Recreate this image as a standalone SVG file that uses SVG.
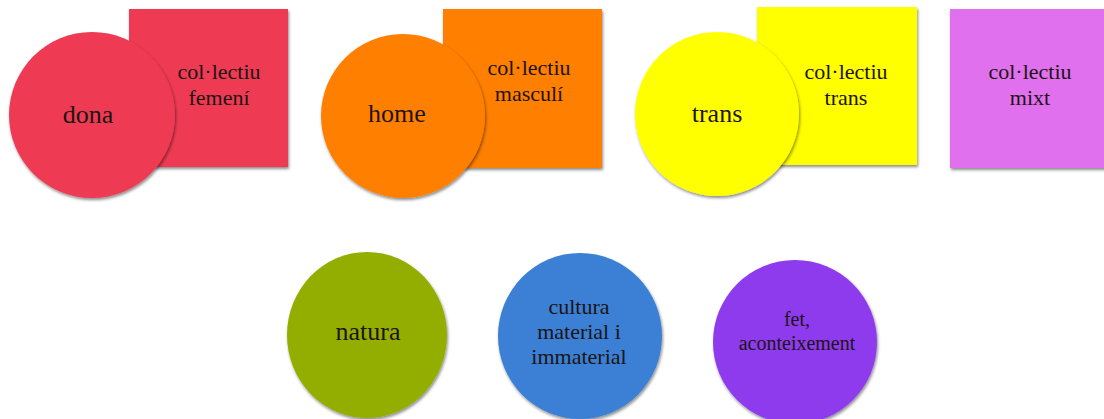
<svg xmlns="http://www.w3.org/2000/svg" width="1104" height="419" viewBox="0 0 1104 419">
<defs>
<filter id="sh" x="-10%" y="-10%" width="125%" height="125%">
<feDropShadow dx="1" dy="2" stdDeviation="1.5" flood-color="#000" flood-opacity="0.45"/>
</filter>
</defs>
<style>
.s{filter:url(#sh)}
text{font-family:"Liberation Serif","DejaVu Serif",serif;font-size:26px;fill:#1c1414;text-anchor:middle}
.m{font-size:22px}
.sm{font-size:20px}
</style>
<rect width="1104" height="419" fill="#fff"/>
<g id="colectiu-femeni"><rect class="s" x="129" y="9" width="159" height="158" fill="#EE3A52"/><text class="m" x="219" y="79">col·lectiu</text><text class="m" x="219" y="105">femení</text></g>
<g id="dona"><circle class="s" cx="92" cy="115" r="83" fill="#EE3A52"/><text x="88" y="123">dona</text></g>
<g id="colectiu-masculi"><rect class="s" x="443" y="9" width="159" height="159" fill="#FF7F00"/><text class="m" x="529" y="75">col·lectiu</text><text class="m" x="529" y="101">masculí</text></g>
<g id="home"><circle class="s" cx="403" cy="116" r="82" fill="#FF7F00"/><text x="397" y="122">home</text></g>
<g id="colectiu-trans"><rect class="s" x="757" y="7" width="160" height="158" fill="#FFFF00"/><text class="m" x="846" y="79">col·lectiu</text><text class="m" x="846" y="105">trans</text></g>
<g id="trans"><circle class="s" cx="717" cy="114" r="82" fill="#FFFF00"/><text x="717" y="122">trans</text></g>
<g id="colectiu-mixt"><rect class="s" x="950" y="9" width="158" height="159" fill="#E070EE"/><text class="m" x="1030" y="79">col·lectiu</text><text class="m" x="1030" y="105">mixt</text></g>
<g id="natura"><ellipse class="s" cx="367" cy="335" rx="80" ry="83" fill="#94AE00"/><text x="368" y="340">natura</text></g>
<g id="cultura"><ellipse class="s" cx="580" cy="336" rx="82" ry="83" fill="#3A80D4"/><text class="m" x="579" y="314">cultura</text><text class="m" x="579" y="339">material i</text><text class="m" x="579" y="364">immaterial</text></g>
<g id="fet"><ellipse class="s" cx="795" cy="342" rx="82" ry="82" fill="#8E3BEE"/><text class="sm" x="797" y="326">fet,</text><text class="sm" x="797" y="350">aconteixement</text></g>
<g id="connectors"></g>
</svg>
